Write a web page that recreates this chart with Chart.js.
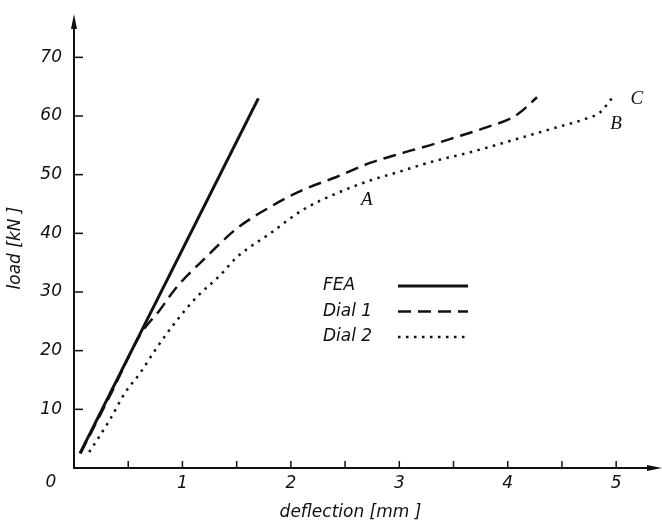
<!DOCTYPE html>
<html>
<head>
<meta charset="utf-8">
<script src="https://cdn.jsdelivr.net/npm/chart.js@4.4.0/dist/chart.umd.min.js"></script>
<style>
  html, body { margin: 0; padding: 0; background: #fff; }
  canvas { display: block; }
</style>
</head>
<body>
<canvas id="grafico" width="662" height="523"></canvas>
<script>
// dados (deflection em mm, load em kN)
const feaX = [0.055, 1.70];
const feaY = [2.5, 63];

const dial1X = [0.06, 0.35, 0.61, 0.79, 0.95, 1.2, 1.5, 1.81, 2.11, 2.42, 2.73, 3.03, 3.28, 3.49, 3.81, 4.05, 4.14, 4.27];
const dial1Y = [2.5, 13.0, 22.7, 26.9, 30.9, 35.6, 40.8, 44.5, 47.4, 49.6, 52.0, 53.7, 55.0, 56.2, 58.1, 59.8, 61.0, 63.2];

const dial2X = [0.14, 0.33, 0.47, 0.61, 0.76, 0.95, 1.13, 1.35, 1.5, 1.81, 2.11, 2.42, 2.73, 3.0, 3.3, 3.65, 4.05, 4.42, 4.73, 4.85, 4.96];
const dial2Y = [2.7, 8.2, 12.8, 16.2, 20.4, 25.2, 29.1, 32.9, 35.9, 40.0, 44.0, 46.8, 49.0, 50.5, 52.2, 53.8, 55.9, 57.9, 59.6, 60.6, 63.0];

const seriesNames = ['FEA', 'Dial 1', 'Dial 2'];

const xTickValues = [1, 2, 3, 4, 5];
const xMinorTicks = [0.5, 1, 1.5, 2, 2.5, 3, 3.5, 4, 4.5, 5];
const yTickValues = [10, 20, 30, 40, 50, 60, 70];

// pontos marcados na curva
const pointLabels = [
    { text: 'A', x: 2.70, y: 45.6 },
    { text: 'B', x: 5.00, y: 58.6 },
    { text: 'C', x: 5.19, y: 62.9 }
];

const toPoints = (xs, ys) => xs.map((x, i) => ({ x: x, y: ys[i] }));

const tickFont = { family: 'DejaVu Sans', size: 17, style: 'italic' };
const ink = '#111';

const axesPlugin = {
    id: 'eixos',
    afterDraw(chart) {
        const ctx = chart.ctx;
        const xs = chart.scales.x;
        const ys = chart.scales.y;
        const x0 = xs.getPixelForValue(0);
        const y0 = ys.getPixelForValue(0);

        ctx.save();
        ctx.strokeStyle = ink;
        ctx.fillStyle = ink;
        ctx.lineWidth = 2;

        // eixo y com seta
        ctx.beginPath();
        ctx.moveTo(x0, y0 + 1);
        ctx.lineTo(x0, 24);
        ctx.stroke();
        ctx.beginPath();
        ctx.moveTo(x0, 14);
        ctx.lineTo(x0 - 3, 29);
        ctx.lineTo(x0 + 3, 29);
        ctx.closePath();
        ctx.fill();

        // eixo x com seta
        ctx.beginPath();
        ctx.moveTo(x0, y0);
        ctx.lineTo(652, y0);
        ctx.stroke();
        ctx.beginPath();
        ctx.moveTo(662, y0);
        ctx.lineTo(647, y0 - 3);
        ctx.lineTo(647, y0 + 3);
        ctx.closePath();
        ctx.fill();

        // marcas para dentro
        ctx.lineWidth = 1.5;
        yTickValues.forEach(v => {
            const p = ys.getPixelForValue(v);
            ctx.beginPath();
            ctx.moveTo(x0, p);
            ctx.lineTo(x0 + 9, p);
            ctx.stroke();
        });
        xMinorTicks.forEach(v => {
            const p = xs.getPixelForValue(v);
            ctx.beginPath();
            ctx.moveTo(p, y0);
            ctx.lineTo(p, y0 - 7);
            ctx.stroke();
        });

        // origem
        ctx.font = 'italic 17px "DejaVu Sans"';
        ctx.textAlign = 'center';
        ctx.textBaseline = 'middle';
        ctx.fillText('0', x0 - 23, y0 + 15);

        // legenda
        chart.data.datasets.forEach((ds, i) => {
            const ly = 286 + i * 25.5;
            ctx.textAlign = 'left';
            ctx.fillText(ds.label, 323, ly);
            ctx.beginPath();
            ctx.lineWidth = ds.borderWidth;
            ctx.setLineDash(ds.borderDash || []);
            ctx.moveTo(398, ly);
            ctx.lineTo(468, ly);
            ctx.stroke();
        });
        ctx.setLineDash([]);

        // letras A, B, C
        ctx.font = 'italic 19px "Liberation Serif"';
        ctx.textAlign = 'center';
        pointLabels.forEach(l => {
            ctx.fillText(l.text, xs.getPixelForValue(l.x), ys.getPixelForValue(l.y));
        });
        ctx.restore();
    }
};

new Chart(document.getElementById('grafico').getContext('2d'), {
    type: 'scatter',
    data: {
        datasets: [
            {
                label: seriesNames[0],
                data: toPoints(feaX, feaY),
                showLine: true,
                borderColor: ink,
                borderWidth: 3,
                pointRadius: 0
            },
            {
                label: seriesNames[1],
                data: toPoints(dial1X, dial1Y),
                showLine: true,
                borderColor: ink,
                borderWidth: 2.5,
                borderDash: [13, 7],
                cubicInterpolationMode: 'monotone',
                pointRadius: 0
            },
            {
                label: seriesNames[2],
                data: toPoints(dial2X, dial2Y),
                showLine: true,
                borderColor: ink,
                borderWidth: 2.5,
                borderDash: [2.5, 5.5],
                cubicInterpolationMode: 'monotone',
                pointRadius: 0
            }
        ]
    },
    options: {
        responsive: false,
        animation: false,
        devicePixelRatio: 1,
        layout: { padding: { left: 0, right: 35, top: 28, bottom: 0 } },
        plugins: { legend: { display: false }, tooltip: { enabled: false } },
        scales: {
            x: {
                type: 'linear',
                min: 0,
                max: 5.1,
                afterFit: s => { s.height = 55; },
                afterBuildTicks: s => { s.ticks = xTickValues.map(v => ({ value: v })); },
                grid: { display: false, drawTicks: false },
                border: { display: false },
                ticks: { color: ink, font: tickFont, padding: 5, maxRotation: 0, autoSkip: false },
                title: {
                    display: true,
                    text: 'deflection [mm ]',
                    color: ink,
                    font: tickFont,
                    padding: 0
                }
            },
            y: {
                min: 0,
                max: 75,
                afterFit: s => { s.width = 74; },
                afterBuildTicks: s => { s.ticks = yTickValues.map(v => ({ value: v })); },
                grid: { display: false, drawTicks: false },
                border: { display: false },
                ticks: { color: ink, font: tickFont, padding: 12, autoSkip: false },
                title: {
                    display: true,
                    text: 'load [kN ]',
                    color: ink,
                    font: tickFont,
                    padding: { top: 5, bottom: 0 }
                }
            }
        }
    },
    plugins: [axesPlugin]
});
</script>
</body>
</html>
